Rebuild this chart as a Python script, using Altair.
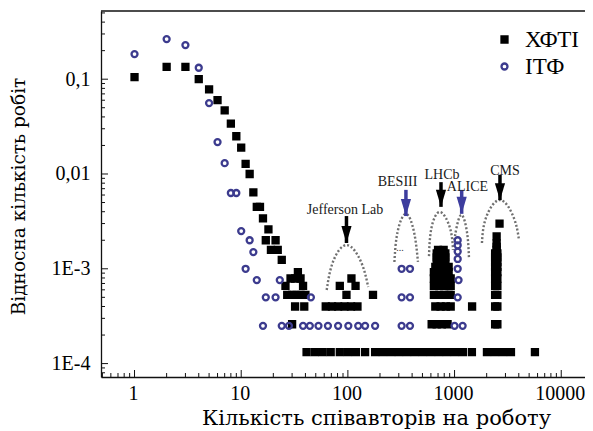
import altair as alt
import pandas as pd

# ---------------- data ----------------
series_names = ["ХФТІ", "ІТФ"]
series_shape = ["square", "circle"]
series_fill = ["#000000", "transparent"]
series_stroke = ["#000000", "#3c3b8e"]

# ХФТІ (black squares)
kfti_head_n = [1, 2, 3, 4, 5, 6, 7, 8, 9, 10, 11, 12, 13, 14, 15, 16, 18, 17, 21, 19, 22, 24]
kfti_head_v = [0.105, 0.135, 0.135, 0.1, 0.078, 0.06, 0.047, 0.034, 0.025, 0.019, 0.0128, 0.01,
               0.0064, 0.0045, 0.0045, 0.0034, 0.0026, 0.002, 0.002, 0.00158, 0.00158, 0.00124]
kfti_mid_n = [34, 29, 32, 36, 26, 38, 27, 30, 33, 36, 40, 32, 39, 30]
kfti_mid_v = [0.00092, 0.00079, 0.00079, 0.00079, 0.00066, 0.00066, 0.00053, 0.00053, 0.00053,
              0.00053, 0.00053, 0.0004, 0.0004, 0.00026]
kfti_jlab_n = [108, 84, 118, 97, 172, 62, 71, 81, 93, 107, 123]
kfti_jlab_v = [0.00079, 0.00066, 0.00066, 0.00053, 0.00053, 0.0004, 0.0004, 0.0004, 0.0004, 0.0004, 0.0004]
kfti_lhcb_n = [700, 790,
               680, 750, 820,
               680, 750, 820,
               680, 750, 820,
               660, 740, 820, 880,
               640, 720, 800, 880,
               640, 720, 800, 880, 920,
               640, 720, 800, 880, 920,
               640, 720, 800, 880, 920,
               660, 740, 830, 920, 1460,
               610, 680, 760, 860]
kfti_lhcb_v = [0.00158, 0.00158,
               0.00145, 0.00145, 0.00145,
               0.00132, 0.00132, 0.00132,
               0.00118, 0.00118, 0.00118,
               0.00105, 0.00105, 0.00105, 0.00105,
               0.00092, 0.00092, 0.00092, 0.00092,
               0.00079, 0.00079, 0.00079, 0.00079, 0.00079,
               0.00066, 0.00066, 0.00066, 0.00066, 0.00066,
               0.00053, 0.00053, 0.00053, 0.00053, 0.00053,
               0.0004, 0.0004, 0.0004, 0.0004, 0.0004,
               0.00026, 0.00026, 0.00026, 0.00026]
kfti_cms_n = [2640, 2480, 2480, 2480, 2480,
              2400, 2520, 2400, 2520, 2400, 2520, 2400, 2520, 2400, 2520,
              2400, 2520, 2400, 2520, 2400, 2520, 2400, 2520, 2400, 2520]
kfti_cms_v = [0.003, 0.0022, 0.00185, 0.0017, 0.00158,
              0.00145, 0.00145, 0.00132, 0.00132, 0.00118, 0.00118, 0.00105, 0.00105, 0.00092, 0.00092,
              0.00079, 0.00079, 0.00066, 0.00066, 0.00053, 0.00053, 0.0004, 0.0004, 0.00026, 0.00026]
kfti_bottom_n = [41, 49, 58, 69, 84, 100, 119, 145, 180, 213, 254, 301, 358, 425, 505, 601, 714,
                 848, 1008, 1197, 1454, 2012, 2392, 2843, 3378, 5668]
kfti_bottom_v = [0.000132] * len(kfti_bottom_n)

# ІТФ (blue open circles)
itf_head_n = [1, 2, 3, 4, 5, 6, 7, 8, 9, 10, 12, 13, 11, 14, 23, 17, 21, 45]
itf_head_v = [0.184, 0.265, 0.229, 0.132, 0.056, 0.0217, 0.013, 0.0063, 0.0063, 0.0025, 0.002,
              0.0015, 0.001, 0.00076, 0.00076, 0.0005, 0.0005, 0.0005]
itf_row_n = [16, 24, 28, 38, 44, 53, 65, 81, 101, 125, 145, 180]
itf_row_v = [0.00025] * len(itf_row_n)
itf_bes_n = [319, 382, 319, 382, 319, 382]
itf_bes_v = [0.001, 0.001, 0.0005, 0.0005, 0.00025, 0.00025]
itf_alice_n = [1070, 1070, 1070, 1070, 1070, 1090, 1070, 1000, 1190]
itf_alice_v = [0.002, 0.00177, 0.00152, 0.00127, 0.001, 0.00076, 0.0005, 0.00025, 0.00025]

# annotations
ann_names = ["Jefferson Lab", "BESIII", "LHCb", "ALICE", "CMS"]
ann_label_n = [94, 292, 762, 1321, 2966]
ann_label_v = [0.00417, 0.0083, 0.00976, 0.00724, 0.01084]
ann_arrow_n = [97, 350, 746, 1166, 2665]
ann_arrow_top = [0.0036, 0.0068, 0.0082, 0.0068, 0.0098]
ann_arrow_tip = [0.00187, 0.0036, 0.0045, 0.0038, 0.0053]
ann_arrow_color = ["#000000", "#3d3d9e", "#000000", "#3d3d9e", "#000000"]

arc_jlab = [(63.3, 0.000597), (72.4, 0.00118), (97.5, 0.00178), (133, 0.00118), (155, 0.000643)]
arc_bes = [(273, 0.00118), (292, 0.00244), (350, 0.00379), (417, 0.00244), (454, 0.00118)]
arc_lhcb = [(576, 0.00136), (607, 0.00269), (730, 0.00397), (906, 0.00269), (966, 0.00158)]
arc_alice = [(998, 0.00201), (1042, 0.00269), (1161, 0.0037), (1307, 0.00244), (1365, 0.0013)]
arc_cms = [(1806, 0.00187), (1968, 0.00344), (2665, 0.00532), (3597, 0.00344), (4015, 0.00201)]

dots_n = [308]
dots_v = [0.00166]

x_tick_values = [1, 10, 100, 1000, 10000]
y_tick_values = [0.1, 0.01, 0.001, 0.0001]
y_tick_labels = ["0,1", "0,01", "1E-3", "1E-4"]
x_title = "Кількість співавторів на роботу"
y_title = "Відносна кількість робіт"

# ---------------- frames ----------------
W, H = 484, 366
x_dom = [0.485, 16700]
y_dom = [7.22e-5, 0.524]

kfti_n = kfti_head_n + kfti_mid_n + kfti_jlab_n + kfti_lhcb_n + kfti_cms_n + kfti_bottom_n
kfti_v = kfti_head_v + kfti_mid_v + kfti_jlab_v + kfti_lhcb_v + kfti_cms_v + kfti_bottom_v
itf_n = itf_head_n + itf_row_n + itf_bes_n + itf_alice_n
itf_v = itf_head_v + itf_row_v + itf_bes_v + itf_alice_v

pts = pd.DataFrame({
    "n": kfti_n + itf_n,
    "v": kfti_v + itf_v,
    "series": [series_names[0]] * len(kfti_n) + [series_names[1]] * len(itf_n),
})

arc_rows = []
for name, arc in zip(ann_names, [arc_jlab, arc_bes, arc_lhcb, arc_alice, arc_cms]):
    for k, (n, v) in enumerate(arc):
        arc_rows.append({"arc": name, "k": k, "n": n, "v": v})
arcs_df = pd.DataFrame(arc_rows)

ann_df = pd.DataFrame({
    "name": ann_names, "ln": ann_label_n, "lv": ann_label_v,
    "an": ann_arrow_n, "top": ann_arrow_top, "tip": ann_arrow_tip, "col": ann_arrow_color,
})

x_minor = [m * 10 ** e for e in range(-1, 4) for m in range(2, 10) if x_dom[0] < m * 10 ** e < x_dom[1]]
y_minor = [m * 10.0 ** e for e in range(-5, 0) for m in range(2, 10) if y_dom[0] < m * 10.0 ** e < y_dom[1]]

# ---------------- scales / axes ----------------
xscale = alt.Scale(type="log", domain=x_dom, nice=False)
yscale = alt.Scale(type="log", domain=y_dom, nice=False)

label_expr = " : ".join(
    f"datum.value > {v * 0.5} ? '{lab}'" for v, lab in zip(y_tick_values[:-1], y_tick_labels[:-1])
) + f" : '{y_tick_labels[-1]}'"

xaxis = alt.Axis(values=x_tick_values, format="d", ticks=False, tickSize=0, grid=False,
                 domainColor="#111111", domainWidth=1.3,
                 labelFont="Liberation Serif", labelFontSize=20, labelColor="#000000", labelPadding=6,
                 labelOffset=-1.5, labelFlush=False, labelOverlap=False,
                 title=x_title, titleFont="DejaVu Serif", titleFontSize=21, titleFontWeight="normal",
                 titleColor="#000000", titleX=275, titleY=41, titleBaseline="middle", titleAlign="center")
yaxis = alt.Axis(values=y_tick_values, labelExpr=label_expr, ticks=False, tickSize=0, grid=False,
                 domainColor="#111111", domainWidth=1.3,
                 labelFont="Liberation Serif", labelFontSize=20, labelColor="#000000", labelPadding=11,
                 labelFlush=False, labelOverlap=False, labelBaseline="middle",
                 title=y_title, titleFont="DejaVu Serif", titleFontSize=18.5, titleFontWeight="normal",
                 titleColor="#000000", titleX=-83, titleY=185, titleAngle=270,
                 titleBaseline="middle", titleAlign="center")


def X(field):
    return alt.X(field, type="quantitative", scale=xscale, axis=xaxis)


def Y(field):
    return alt.Y(field, type="quantitative", scale=yscale, axis=yaxis)


# ---------------- layers ----------------
arcs = alt.Chart(arcs_df).mark_line(
    interpolate="natural", strokeDash=[2, 2], strokeWidth=2.4, color="#707070"
).encode(x=X("n"), y=Y("v"), detail="arc:N", order="k:Q")

points = alt.Chart(pts).mark_point(filled=True, opacity=1, size=36, strokeWidth=2.3).encode(
    x=X("n"), y=Y("v"),
    shape=alt.Shape("series:N", scale=alt.Scale(domain=series_names, range=series_shape), title=None),
    fill=alt.Fill("series:N", scale=alt.Scale(domain=series_names, range=series_fill), title=None),
    stroke=alt.Stroke("series:N", scale=alt.Scale(domain=series_names, range=series_stroke), title=None),
)

stems = alt.Chart(ann_df).mark_rule(strokeWidth=3.5).encode(
    x=X("an"), y=Y("top"), y2="tip", color=alt.Color("col:N", scale=None)
)
heads = alt.Chart(ann_df).mark_point(
    shape="M-0.6,-1L0.6,-1L0,1Z", size=289, filled=True, opacity=1, yOffset=-8.5
).encode(x=X("an"), y=Y("tip"), color=alt.Color("col:N", scale=None))

labels = alt.Chart(ann_df).mark_text(
    font="Liberation Serif", fontSize=14, color="#1a1a1a", baseline="middle", align="center"
).encode(x=X("ln"), y=Y("lv"), text="name:N")

dots = alt.Chart(pd.DataFrame({"n": dots_n, "v": dots_v, "t": ["..."]})).mark_text(
    font="Liberation Serif", fontSize=10, color="#333333", baseline="middle", align="center"
).encode(x=X("n"), y=Y("v"), text="t:N")

xt_major = alt.Chart(pd.DataFrame({"t": x_tick_values})).mark_rule(color="#111111", strokeWidth=1).encode(
    x=X("t"), y=alt.value(H), y2=alt.value(H - 7))
xt_minor = alt.Chart(pd.DataFrame({"t": x_minor})).mark_rule(color="#111111", strokeWidth=1).encode(
    x=X("t"), y=alt.value(H), y2=alt.value(H - 4))
yt_major = alt.Chart(pd.DataFrame({"t": y_tick_values})).mark_rule(color="#111111", strokeWidth=1).encode(
    y=Y("t"), x=alt.value(0), x2=alt.value(7))
yt_minor = alt.Chart(pd.DataFrame({"t": y_minor})).mark_rule(color="#111111", strokeWidth=1).encode(
    y=Y("t"), x=alt.value(0), x2=alt.value(4))

top_border = alt.Chart(pd.DataFrame({"t": [0]})).mark_rule(color="#111111", strokeWidth=1.3).encode(
    x=alt.value(0), x2=alt.value(W), y=alt.value(0))

chart = alt.layer(
    arcs, points, stems, heads, labels, dots, xt_major, xt_minor, yt_major, yt_minor, top_border
).properties(
    width=W, height=H, autosize="none",
    padding={"left": 93, "top": 3, "right": 0, "bottom": 54},
).configure_view(stroke=None).configure_legend(
    orient="none", legendX=392, legendY=17, padding=0,
    labelFont="Liberation Serif", labelFontSize=23, labelColor="#000000",
    symbolSize=36, symbolStrokeWidth=2.3, labelOffset=9, rowPadding=3,
)

chart.save("out.html", embed_options={"renderer": "svg", "actions": False})
